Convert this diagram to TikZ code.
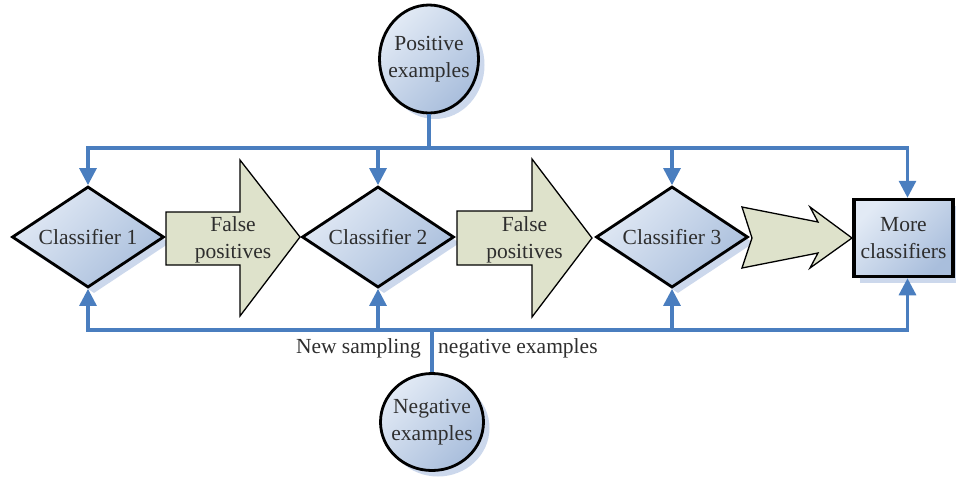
\documentclass[tikz,border=0pt]{standalone}
\usepackage{fontspec}
\setmainfont{Liberation Serif}
\usetikzlibrary{shapes.geometric,arrows.meta,shadows}
\definecolor{flow}{HTML}{4A7EBF}
\definecolor{fillA}{HTML}{E2EAF5}
\definecolor{fillB}{HTML}{A9BEDC}
\definecolor{shadowc}{HTML}{CCD8EC}
\definecolor{arrowfill}{HTML}{DEE2CB}
\definecolor{txt}{HTML}{2E2E2E}
\begin{document}
\begin{tikzpicture}[x=1pt,y=-1pt,
  every node/.style={font=\fontsize{21.5}{27}\selectfont, text=txt},
  boxshade/.style={top color=fillA, bottom color=fillB, shading angle=45,
    drop shadow={shadow xshift=6pt, shadow yshift=-6pt, fill=shadowc, opacity=1}},
  decision/.style={diamond, aspect=1.5, draw=black, line width=2.8pt, boxshade,
    minimum width=152pt, minimum height=101pt, inner sep=0pt},
  source/.style={ellipse, draw=black, line width=2.8pt, boxshade,
    inner xsep=-14pt, inner ysep=-10pt, align=center},
  finalbox/.style={rectangle, draw=black, line width=3.5pt, boxshade,
    minimum width=99pt, minimum height=77pt, inner sep=0pt, align=center},
  bigarrow/.style={draw=black, line width=1.3pt, fill=arrowfill, line join=miter},
  flowline/.style={draw=flow, line width=3.2pt},
  flowarrow/.style={flowline, -{Triangle[width=17pt,length=17pt]}},
  lbl/.style={inner sep=0pt, align=center},
]
\useasboundingbox (0,0) rectangle (956,483);

% source circles
\node[source, minimum width=99pt, minimum height=108pt] (pos) at (429,59) {Positive\\examples};
\node[source, minimum width=103pt, minimum height=97pt] (neg) at (432,422) {Negative\\examples};

% classifiers
\node[decision] (c1) at (88,237) {Classifier 1};
\node[decision] (c2) at (378,237) {Classifier 2};
\node[decision] (c3) at (672,237) {Classifier 3};
\node[finalbox] (more) at (903.5,238) {More\\classifiers};

% big block arrows
\draw[bigarrow] (166,212) -- (240,212) -- (240,160) -- (300,237) -- (240,316)
  -- (240,265) -- (166,265) -- cycle;
\node[lbl] (fp1) at (233,240) {False\\positives};
\draw[bigarrow] (457,211) -- (532,211) -- (532,159) -- (592,238) -- (532,317)
  -- (532,265) -- (457,265) -- cycle;
\node[lbl] (fp2) at (524.5,240) {False\\positives};
\draw[bigarrow] (742,207) -- (818,222) -- (810,207) -- (852,238) -- (810,268)
  -- (818,253) -- (742,268) -- (752,238) -- cycle;

% bus bars
\coordinate (topbar) at (0,148);
\coordinate (botbar) at (0,330);
\coordinate (mt) at ([xshift=4pt]more.north);
\coordinate (mb) at ([xshift=4pt]more.south);

\draw[flowline] (pos.south) -- (pos.south |- topbar);
\draw[flowarrow] (c2.north |- topbar) -| (c1.north);
\draw[flowarrow] (c2.north |- topbar) -- (c2.north);
\draw[flowline] (c2.north |- topbar) -- (c3.north |- topbar);
\draw[flowarrow] (c3.north |- topbar) -- (c3.north);
\draw[flowarrow] (c3.north |- topbar) -| (mt);

\draw[flowline] (neg.north) -- (neg.north |- botbar);
\draw[flowarrow] (c2.south |- botbar) -| (c1.south);
\draw[flowarrow] (c2.south |- botbar) -- (c2.south);
\draw[flowline] (c2.south |- botbar) -- (c3.south |- botbar);
\draw[flowarrow] (c3.south |- botbar) -- (c3.south);
\draw[flowarrow] (c3.south |- botbar) -| (mb);

% sampling label
\node[inner sep=0pt, anchor=base east] (ns) at (421,353) {New sampling};
\node[inner sep=0pt, anchor=base west] (ne) at (438,353) {negative examples};
\end{tikzpicture}
\end{document}
